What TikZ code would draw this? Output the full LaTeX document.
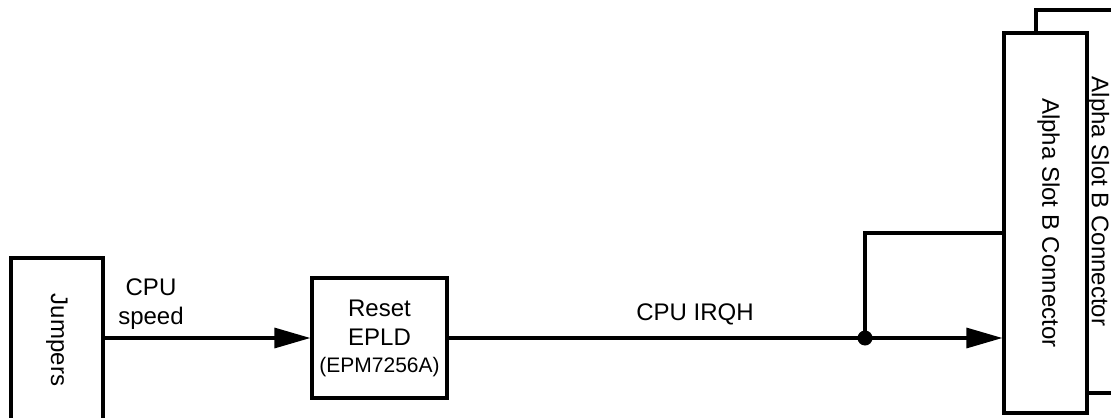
\documentclass[tikz,border=0pt]{standalone}
\usepackage{fontspec}
\setmainfont{Liberation Sans}
\usetikzlibrary{arrows.meta}

\tikzset{
  blockbox/.style={draw, line width=1.6pt, fill=white, inner sep=0pt},
  wire/.style={line width=1.6pt},
  sigarrow/.style={wire, -{Triangle[length=18pt, width=10pt]}},
}

\begin{document}
\begin{tikzpicture}[x=0.5pt, y=-0.5pt, font=\fontsize{12}{14.5}\selectfont]
  \useasboundingbox (0,0) rectangle (1111,417);
  % blocks
  \node[blockbox, minimum width=46pt, minimum height=82pt,
        label={[rotate=-90]center:Jumpers}] (jumpers) at (57,340) {};
  \node[blockbox, minimum width=67.5pt, minimum height=60pt, align=center] (reset) at (379.5,338)
    {Reset\\EPLD\\[-1pt]{\fontsize{10.5}{12}\selectfont(EPM7256A)}};
  \node[blockbox, minimum width=62pt, minimum height=191.5pt,
        label={[rotate=-90]center:Alpha Slot B Connector}] (slotback) at (1098,201.5) {};
  \node[blockbox, minimum width=41.5pt, minimum height=190pt,
        label={[rotate=-90, yshift=1.5pt]center:Alpha Slot B Connector}] (slotfront) at (1045.5,223) {};
  % signals
  \draw[sigarrow] (jumpers.east |- reset.west) -- (reset.west);
  \node[align=center] (speedlbl) at (151,304) {CPU\\speed};
  \coordinate (tap) at (865,338);
  \coordinate (bend) at (865,233);
  \draw[sigarrow] (reset.east) -- (reset.east -| slotfront.west);
  \draw[wire] (tap) -- (bend) -- (bend -| slotfront.west);
  \fill (tap) circle (3.75pt);
  \node (irqlbl) at (695,314) {CPU IRQH};
\end{tikzpicture}
\end{document}
